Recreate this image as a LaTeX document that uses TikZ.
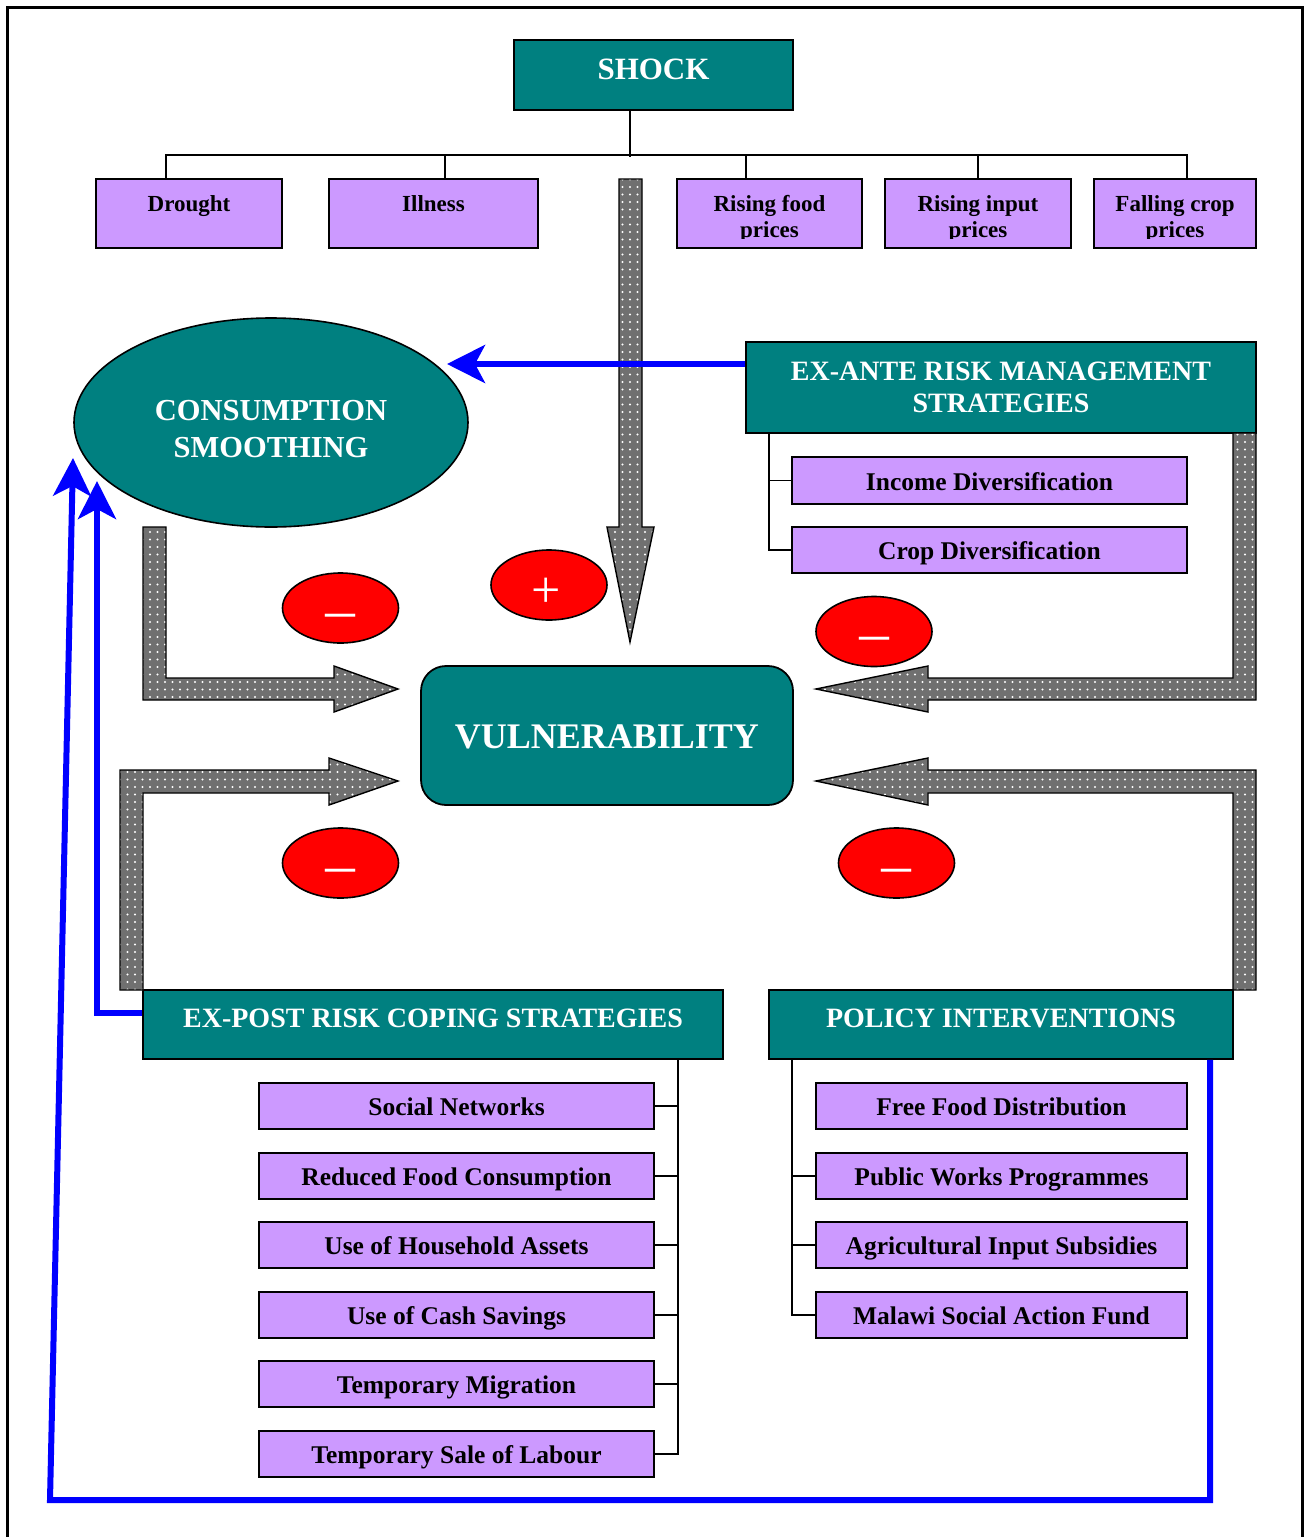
\documentclass[tikz,border=0pt]{standalone}
\usepackage{fontspec}
\usepackage{graphicx}
\setmainfont{Liberation Serif}
\usetikzlibrary{arrows.meta,patterns.meta,calc,shapes.geometric}
\definecolor{tealbox}{RGB}{0,128,128}
\definecolor{lav}{RGB}{204,153,255}
\definecolor{pureblue}{RGB}{0,0,255}
\definecolor{signred}{RGB}{255,0,0}
\begin{document}
\begin{tikzpicture}[x=1pt,y=-1pt,
  hbox/.style={draw=black, line width=1.8pt, fill=tealbox, text=white, inner sep=0pt, align=center},
  catbox/.style={draw=black, line width=1.8pt, fill=lav, inner sep=0pt},
  cattext/.style={anchor=north, inner sep=0pt, align=center, font=\fontsize{23pt}{26pt}\selectfont\bfseries},
  lbox/.style={draw=black, line width=1.8pt, fill=lav, inner sep=0pt, minimum height=46pt,
    text height=19pt, text depth=0pt, font=\fontsize{25.5pt}{28pt}\selectfont\bfseries},
  tree/.style={draw=black, line width=1.8pt},
  blockarrow/.style={draw=black, line width=1.4pt, line join=miter, preaction={fill=black!56},
    pattern={Dots[distance=7.5pt,radius=1.1pt]}, pattern color=white},
  bluearrow/.style={draw=pureblue, line width=6pt, line join=miter,
    -{Stealth[length=38pt,width=38pt,inset=10pt]}},
  sign/.style={ellipse, draw=black, line width=1.6pt, fill=signred, inner sep=0pt,
    minimum width=116pt, minimum height=70pt, text=white},
  minus/.style={sign, text height=34pt, text depth=0pt, font=\fontsize{30pt}{30pt}\selectfont\bfseries},
  plus/.style={sign, text height=44pt, text depth=0pt, font=\fontsize{52pt}{52pt}\selectfont}
]
\useasboundingbox (0,0) rectangle (1308,1537);

% outer frame
\draw[line width=3pt] (7,1537) -- (7,7) -- (1302,7) -- (1302,1537);

% shock and its kinds
\node[hbox, minimum width=279pt, minimum height=70pt, text height=20.5pt, text depth=12pt,
  font=\fontsize{31pt}{34pt}\selectfont\bfseries] (shock) at (653.5,75) {SHOCK};

\node[catbox, minimum width=186pt, minimum height=69pt] (drought) at (189,213.5) {};
\node[catbox, minimum width=209pt, minimum height=69pt] (illness) at (433.5,213.5) {};
\node[catbox, minimum width=185pt, minimum height=69pt] (risefood) at (769.5,213.5) {};
\node[catbox, minimum width=186pt, minimum height=69pt] (riseinput) at (978,213.5) {};
\node[catbox, minimum width=162pt, minimum height=69pt] (fallcrop) at (1175,213.5) {};

\node[cattext] (droughtT) at ($(drought.north)+(0,17.5)$) {Drought};
\node[cattext] (illnessT) at ($(illness.north)+(0,17.5)$) {Illness};
\begin{scope}
  \clip (677,180) rectangle (1256,238.5);
  \node[cattext] (risefoodT) at ($(risefood.north)+(0,17.5)$) {Rising food\\prices};
  \node[cattext] (riseinputT) at ($(riseinput.north)+(0,17.5)$) {Rising input\\prices};
  \node[cattext] (fallcropT) at ($(fallcrop.north)+(0,17.5)$) {Falling crop\\prices};
\end{scope}

\coordinate (hub) at ($(shock.south)+(-23.5,46)$);
\draw[tree] (hub |- shock.south) -- (hub);
\draw[tree] ($(drought.north)+(-23,0)$) -- ++(0,-23) -| ($(fallcrop.north)+(12,0)$);
\draw[tree] ($(illness.north)+(11.5,0)$) -- ++(0,-23);
\draw[tree] ($(risefood.north)+(-23.5,0)$) -- ++(0,-23);
\draw[tree] (riseinput.north) -- ++(0,-23);

% consumption smoothing
\node[ellipse, draw=black, line width=1.6pt, fill=tealbox, inner sep=0pt,
  minimum width=394pt, minimum height=209pt] (cs) at (271,422.5) {};
\node[text=white, align=center, inner sep=0pt, font=\fontsize{30.5pt}{37pt}\selectfont\bfseries]
  (csT) at ($(cs.center)+(0,7)$) {CONSUMPTION\\SMOOTHING};

% ex-ante strategies
\node[hbox, minimum width=510pt, minimum height=91pt, font=\fontsize{28pt}{32pt}\selectfont\bfseries]
  (exante) at (1001,387.5) {EX-ANTE RISK MANAGEMENT\\STRATEGIES};
\node[lbox, minimum width=395pt, minimum height=47pt] (incomediv) at (989.5,480.5) {Income Diversification};
\node[lbox, minimum width=395pt] (cropdiv) at (989.5,550) {Crop Diversification};
\coordinate (eaS) at ($(exante.south west)+(24,0)$);
\draw[tree] (eaS) |- (cropdiv.west);
\draw[tree] (eaS |- incomediv.west) -- (incomediv.west);

% vulnerability
\node[draw=black, line width=1.8pt, fill=tealbox, rounded corners=25pt, text=white,
  minimum width=372pt, minimum height=139pt, inner sep=0pt, text height=25pt, text depth=0pt,
  font=\fontsize{36pt}{40pt}\selectfont\bfseries] (vuln) at (607,735.5) {VULNERABILITY};

% ex-post coping strategies
\node[hbox, minimum width=580pt, minimum height=69pt, text height=18.5pt, text depth=13pt,
  font=\fontsize{28pt}{32pt}\selectfont\bfseries] (expost) at (433,1024.5) {EX-POST RISK COPING STRATEGIES};
\node[lbox, minimum width=395pt] (social) at (456.5,1106) {Social Networks};
\node[lbox, minimum width=395pt] (reduced) at (456.5,1176) {Reduced Food Consumption};
\node[lbox, minimum width=395pt] (assets) at (456.5,1245) {Use of Household Assets};
\node[lbox, minimum width=395pt] (cash) at (456.5,1315) {Use of Cash Savings};
\node[lbox, minimum width=395pt] (migration) at (456.5,1384) {Temporary Migration};
\node[lbox, minimum width=395pt] (labour) at (456.5,1454) {Temporary Sale of Labour};
\coordinate (epR) at ($(expost.south east)+(-46,0)$);
\draw[tree] (epR) |- (labour.east);
\foreach \b in {social,reduced,assets,cash,migration}
  \draw[tree] (\b.east) -- (\b.east -| epR);

% policy interventions
\node[hbox, minimum width=464pt, minimum height=69pt, text height=18.5pt, text depth=13pt,
  font=\fontsize{28pt}{32pt}\selectfont\bfseries] (policy) at (1001,1024.5) {POLICY INTERVENTIONS};
\node[lbox, minimum width=371pt] (freefood) at (1001.5,1106) {Free Food Distribution};
\node[lbox, minimum width=371pt] (publicworks) at (1001.5,1176) {Public Works Programmes};
\node[lbox, minimum width=371pt] (agrinput) at (1001.5,1245) {Agricultural Input Subsidies};
\node[lbox, minimum width=371pt] (masaf) at (1001.5,1315) {Malawi Social Action Fund};
\coordinate (piL) at ($(policy.south west)+(24,0)$);
\draw[tree] (piL) |- (masaf.west);
\foreach \b in {publicworks,agrinput}
  \draw[tree] (\b.west) -- (\b.west -| piL);

% block arrows into vulnerability
\draw[blockarrow] (619,179) -- (642,179) -- (642,527) -- (654,527) -- (630,642) -- (607,527) -- (619,527) -- cycle;
\draw[blockarrow] (143,527) -- (166,527) -- (166,678) -- (334,678) -- (334,666) -- (398,689)
  -- (334,712) -- (334,700) -- (143,700) -- cycle;
\draw[blockarrow] (1233,433) -- (1256,433) -- (1256,700) -- (928,700) -- (928,712) -- (816,689)
  -- (928,666) -- (928,678) -- (1233,678) -- cycle;
\draw[blockarrow] (120,990) -- (120,770) -- (329,770) -- (329,758) -- (398,781) -- (329,805)
  -- (329,793) -- (143,793) -- (143,990) -- cycle;
\draw[blockarrow] (1256,990) -- (1256,770) -- (928,770) -- (928,758) -- (816,781) -- (928,805)
  -- (928,793) -- (1233,793) -- (1233,990) -- cycle;

% signs of the effects
\node[minus] (s1) at (340.5,608) {\scalebox{1}[1.4]{—}};
\node[plus] (s2) at (549,585) {\hspace{-6pt}+};
\node[minus] (s3) at (874,631.5) {\scalebox{1}[1.4]{—}};
\node[minus] (s4) at (340.5,863) {\scalebox{1}[1.4]{—}};
\node[minus] (s5) at (896.5,863) {\scalebox{1}[1.4]{—}};

% feedback arrows to consumption smoothing
\coordinate (csTip) at (447,364);
\draw[bluearrow] ($(exante.west)+(0,-23.5)$) -- (csTip);
\coordinate (innerTip) at (97,481);
\draw[bluearrow] ($(expost.west)+(0,-11.5)$) -| (innerTip);
\coordinate (loopBR) at (1210,1500);
\coordinate (loopBL) at (50,1500);
\coordinate (outerTip) at (73,458);
\draw[bluearrow] (loopBR |- policy.south) -- (loopBR) -- (loopBL) -- (outerTip);

\end{tikzpicture}
\end{document}
